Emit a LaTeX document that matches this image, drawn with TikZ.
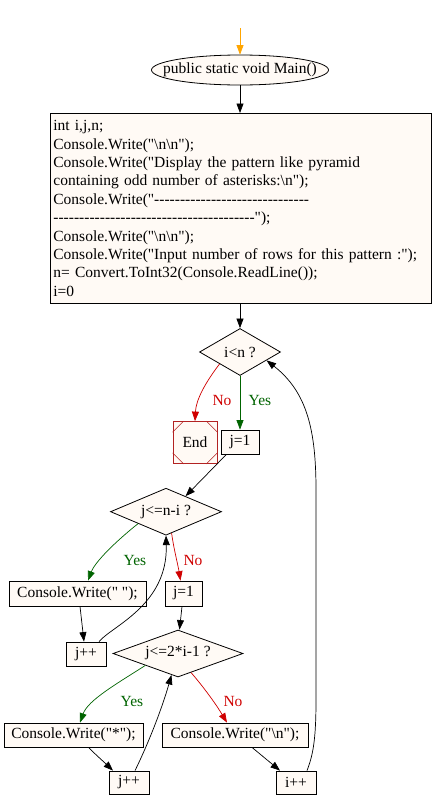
\documentclass[tikz,border=0pt]{standalone}
\usepackage{fontspec}
\newfontfamily\gv{Liberation Serif}
\usetikzlibrary{arrows.meta,shapes.geometric,calc}
\definecolor{fillc}{HTML}{FFFAF5}
\definecolor{yesc}{HTML}{006400}
\definecolor{noc}{HTML}{D00000}
\definecolor{endc}{HTML}{B22222}
\definecolor{startc}{HTML}{FFA500}
\begin{document}
\begin{tikzpicture}[x=1pt,y=-1pt,
  every node/.style={font=\gv\fontsize{15.5}{18.4}\selectfont},
  box/.style={draw, fill=fillc, rectangle, inner sep=0pt, line width=0.8pt},
  dia/.style={draw, fill=fillc, diamond, inner sep=0pt, line width=0.8pt},
  arr/.style={-{Triangle[length=9.5pt,width=7pt]}, line width=0.7pt},
  yeslab/.style={text=yesc},
  nolab/.style={text=noc}]
\useasboundingbox (0,0) rectangle (432,809);
\fill[white] (0,0) rectangle (432,809);

\coordinate (s0) at (240,28);
\node[draw, fill=fillc, ellipse, inner xsep=-16pt, inner ysep=0pt, line width=0.8pt, minimum width=177pt, minimum height=30pt] (main) at (240,70) {public static void Main()};
\node[box, anchor=north west, text width=375pt, align=left, inner xsep=3pt, minimum height=190pt] (init) at (50,113) {int i,j,n;\\
Console.Write("\textbackslash n\textbackslash n");\\
Console.Write("Display the pattern like pyramid\\
containing odd number of asterisks:\textbackslash n");\\
Console.Write("------------------------------\\
---------------------------------------");\\
Console.Write("\textbackslash n\textbackslash n");\\
Console.Write("Input number of rows for this pattern :");\\
n= Convert.ToInt32(Console.ReadLine());\\
i=0};
\node[dia, aspect=1.7, minimum width=81pt, minimum height=47pt] (dA) at (240,352) {i<n ?};
\node[box, draw=endc, minimum width=44pt, minimum height=42pt] (end) at (195,442.5) {End};
\node[box, minimum width=38pt, minimum height=24pt] (j1) at (240,442) {j=1};
\node[dia, aspect=2.3, minimum width=111pt, minimum height=47pt] (dB) at (166,511.7) {j<=n-i ?};
\node[box, minimum width=137pt, minimum height=25pt] (cw1) at (77.5,593.5) {Console.Write(" ");};
\node[box, minimum width=37pt, minimum height=25pt] (j1b) at (183.5,593.5) {j=1};
\node[box, minimum width=40pt, minimum height=24pt] (jpa) at (86,654) {j++};
\node[dia, aspect=2.77, minimum width=130pt, minimum height=47pt] (dC) at (178,653.5) {j<=2*i-1 ?};
\node[box, minimum width=139pt, minimum height=24pt] (cws) at (73.5,735) {Console.Write("*");};
\node[box, minimum width=146pt, minimum height=24pt] (cwn) at (235,735) {Console.Write("\textbackslash n");};
\node[box, minimum width=40pt, minimum height=23pt] (jpb) at (129,782.5) {j++};
\node[box, minimum width=40pt, minimum height=23pt] (ipp) at (296,782.5) {i++};

% End box corner marks
\draw[endc, line width=0.5pt]
  ($(end.north west)+(0,11)$) -- ($(end.north west)+(11,0)$)
  ($(end.north east)+(0,11)$) -- ($(end.north east)+(-11,0)$)
  ($(end.south west)+(0,-11)$) -- ($(end.south west)+(11,0)$)
  ($(end.south east)+(0,-11)$) -- ($(end.south east)+(-11,0)$);

% connectors
\draw[arr, startc] (s0) -- (main.north);
\draw[arr] (main.south) -- (main.south |- init.north);
\draw[arr] (dA.north |- init.south) -- (dA.north);
\draw[arr, noc] (dA.south west) .. controls (205,383) and (196,400) .. (end.north);
\node[nolab] (noA) at (222,400) {No};
\draw[arr, yesc] (dA.south) -- (j1.north);
\node[yeslab] (yesA) at (260,400) {Yes};
\draw[arr] ($(j1.south west)!0.3!(j1.south)$) -- ($(dB.north)!0.35!(dB.east)$);
\draw[arr, yesc] (dB.south west) .. controls (115,542) and (95,562) .. ([xshift=10.5pt]cw1.north);
\node[yeslab] (yesB) at (135,560) {Yes};
\draw[arr, noc] ($(dB.south)!0.1!(dB.east)$) .. controls (174,550) and (178,565) .. ([xshift=-3pt]j1b.north);
\node[nolab] (noB) at (193,560) {No};
\draw[arr] ([xshift=2.5pt]cw1.south) -- ([xshift=-2pt]jpa.north);
\draw[arr] ([xshift=13pt]jpa.north) .. controls (112,626) and (168,605) .. (dB.south);
\draw[arr] ([xshift=-1.5pt]j1b.south) -- ([xshift=1.5pt]dC.north);
\draw[arr, yesc] (dC.south west) .. controls (118,683) and (88,700) .. ([xshift=6.5pt]cws.north);
\node[yeslab] (yesC) at (132,701) {Yes};
\draw[arr, noc] ($(dC.south)!0.2!(dC.east)$) .. controls (201,684) and (214,701) .. ([xshift=-8pt]cwn.north);
\node[nolab] (noC) at (233,701) {No};
\draw[arr] ([xshift=15pt]cws.south) .. controls (96,755) and (104,762) .. ([xshift=-16pt]jpb.north);
\draw[arr] ([xshift=6pt]jpb.north) .. controls (150,740) and (163,705) .. ($(dC.south)!0.1!(dC.west)$);
\draw[arr] ([xshift=17pt]cwn.south) -- ([xshift=-16pt]ipp.north);
\draw[arr] ([xshift=11pt]ipp.north) .. controls (313,755) and (316,740) .. (316,700) -- (316,490) .. controls (316,430) and (307,392) .. ($(dA.east)!0.35!(dA.south)$);
\end{tikzpicture}
\end{document}
